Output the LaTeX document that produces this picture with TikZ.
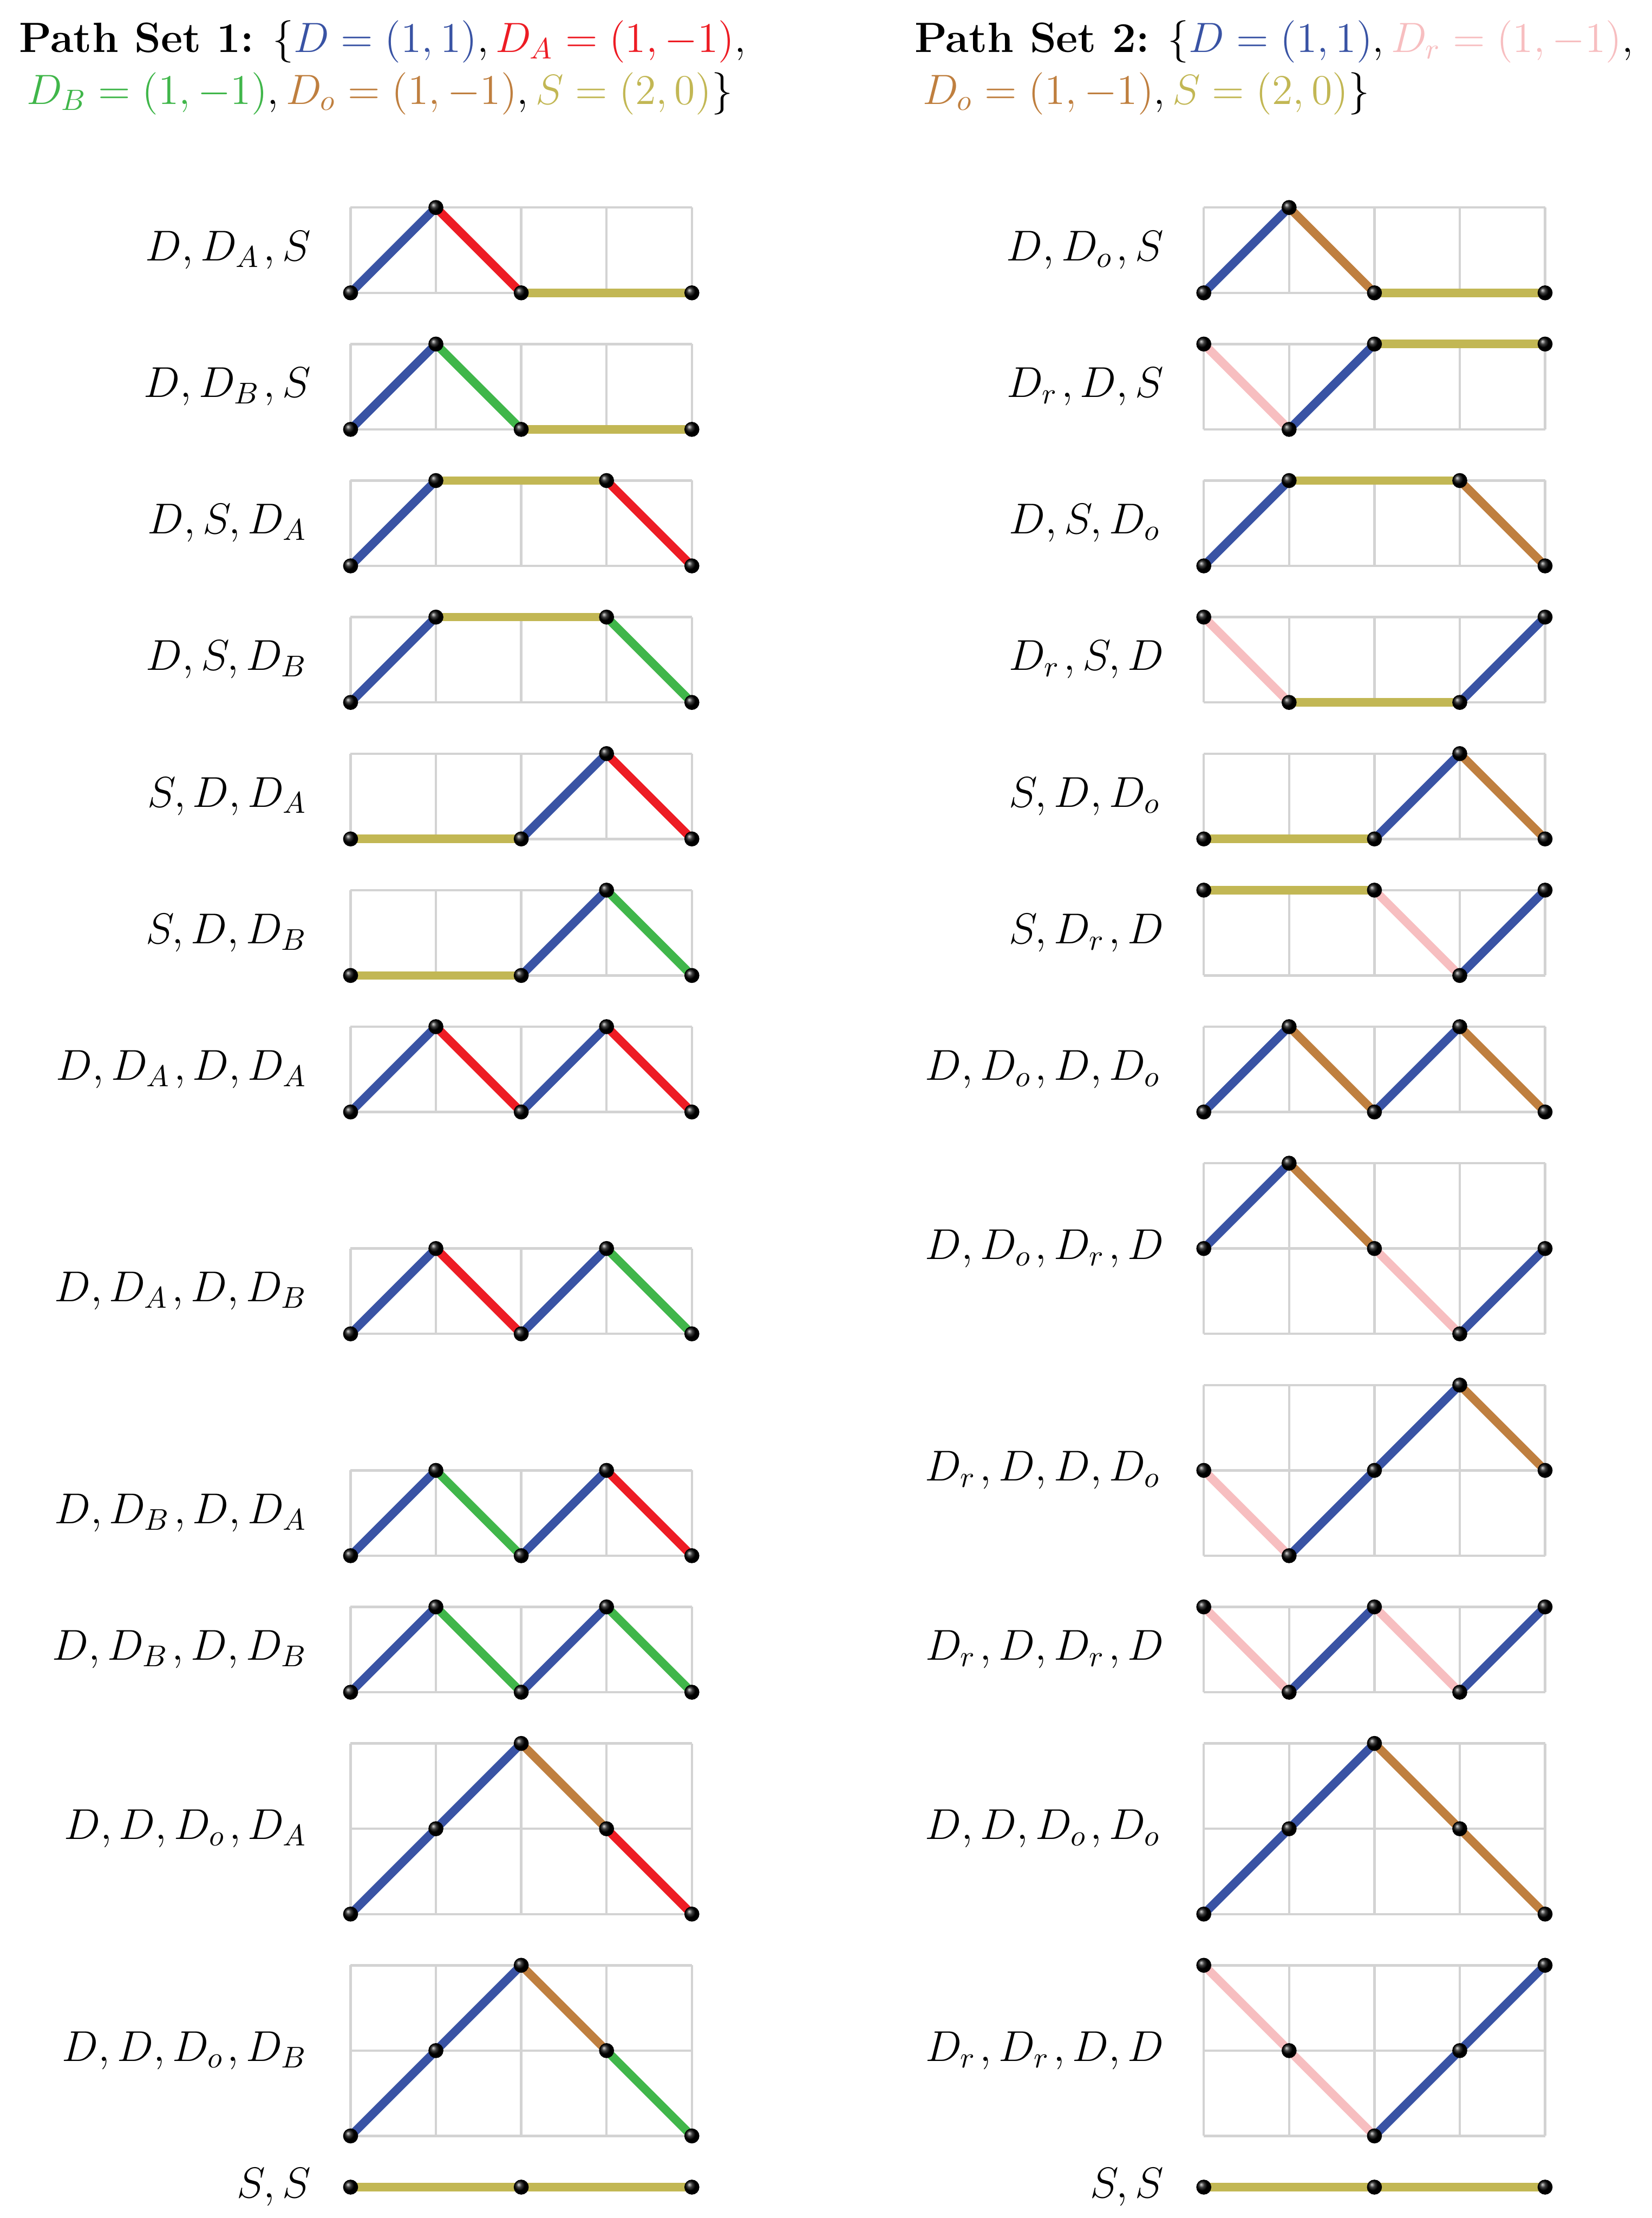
\documentclass[tikz,border=0pt]{standalone}
\definecolor{cD}{RGB}{57,83,164}
\definecolor{cA}{RGB}{237,28,36}
\definecolor{cB}{RGB}{64,182,74}
\definecolor{cO}{RGB}{191,127,63}
\definecolor{cS}{RGB}{194,183,84}
\definecolor{cR}{RGB}{247,190,192}
\definecolor{cG}{RGB}{211,211,211}
\newcommand{\labfont}{\scriptspace=1.7pt\relax\fontsize{14.4}{17}\selectfont}
\tikzset{
  gridline/.style={draw=cG, line width=0.8pt},
  seg/.style={line width=0.1cm},
  dot/.style={circle, inner sep=0pt, minimum size=0.165cm, ball color=black, draw=black, line width=0.3pt},
  lab/.style={anchor=east, inner sep=0pt, font=\labfont},
  head/.style={anchor=base west, inner sep=0pt, scale=0.98, transform shape, font=\fontsize{14.4}{17}\selectfont},
}
\newcommand{\pathplot}[7]{%
  \foreach \gx in {0,...,4}{\draw[gridline] (#2+\gx,#3) -- (#2+\gx,#3+#4);}%
  \foreach \gy in {0,...,#4}{\draw[gridline] (#2,#3+\gy) -- (#2+4,#3+\gy);}%
  \node[lab] (#1lab) at (#2-0.46,#3+#4/2) {$#6$};%
  \coordinate (#1p0) at (#2,#3+#5);%
  \foreach \dx/\dy/\cc [count=\i] in {#7}{%
    \pgfmathtruncatemacro\j{\i-1}%
    \path (#1p\j) ++(\dx,\dy) coordinate (#1p\i);%
    \draw[seg,draw=\cc] (#1p\j) -- (#1p\i);%
    \xdef\lastn{\i}%
  }%
  \foreach \k in {0,...,\lastn}{\node[dot] (#1d\k) at (#1p\k) {};}%
}
\begin{document}
\begin{tikzpicture}
\useasboundingbox (-4.109,-22.562) rectangle (15.251,3.432);
% headers
\node[head] (h1a) at (-3.891,2.818) {\textbf{Path Set 1:} $\{\textcolor{cD}{D=(1,1)}, \textcolor{cA}{D_A=(1,-1)},$};
\node[head] (h1b) at (-3.80,2.213) {$\textcolor{cB}{D_B=(1,-1)}, \textcolor{cO}{D_o=(1,-1)}, \textcolor{cS}{S=(2,0)}\}$};
\node[head] (h2a) at (6.604,2.818) {\textbf{Path Set 2:} $\{\textcolor{cD}{D=(1,1)}, \textcolor{cR}{D_r=(1,-1)},$};
\node[head] (h2b) at (6.70,2.213) {$\textcolor{cO}{D_o=(1,-1)}, \textcolor{cS}{S=(2,0)}\}$};
% left column
\pathplot{La}{0}{0}{1}{0}{D, D_A, S}{1/1/cD, 1/-1/cA, 2/0/cS}
\pathplot{Lb}{0}{-1.6}{1}{0}{D, D_B, S}{1/1/cD, 1/-1/cB, 2/0/cS}
\pathplot{Lc}{0}{-3.2}{1}{0}{D, S, D_A}{1/1/cD, 2/0/cS, 1/-1/cA}
\pathplot{Ld}{0}{-4.8}{1}{0}{D, S, D_B}{1/1/cD, 2/0/cS, 1/-1/cB}
\pathplot{Le}{0}{-6.4}{1}{0}{S, D, D_A}{2/0/cS, 1/1/cD, 1/-1/cA}
\pathplot{Lf}{0}{-8.0}{1}{0}{S, D, D_B}{2/0/cS, 1/1/cD, 1/-1/cB}
\pathplot{Lg}{0}{-9.6}{1}{0}{D, D_A, D, D_A}{1/1/cD, 1/-1/cA, 1/1/cD, 1/-1/cA}
\pathplot{Lh}{0}{-12.2}{1}{0}{D, D_A, D, D_B}{1/1/cD, 1/-1/cA, 1/1/cD, 1/-1/cB}
\pathplot{Li}{0}{-14.8}{1}{0}{D, D_B, D, D_A}{1/1/cD, 1/-1/cB, 1/1/cD, 1/-1/cA}
\pathplot{Lj}{0}{-16.4}{1}{0}{D, D_B, D, D_B}{1/1/cD, 1/-1/cB, 1/1/cD, 1/-1/cB}
\pathplot{Lk}{0}{-19.0}{2}{0}{D, D, D_o, D_A}{1/1/cD, 1/1/cD, 1/-1/cO, 1/-1/cA}
\pathplot{Ll}{0}{-21.6}{2}{0}{D, D, D_o, D_B}{1/1/cD, 1/1/cD, 1/-1/cO, 1/-1/cB}
\pathplot{Lm}{0}{-22.2}{0}{0}{S, S}{2/0/cS, 2/0/cS}
% right column
\pathplot{Ra}{10}{0}{1}{0}{D, D_o, S}{1/1/cD, 1/-1/cO, 2/0/cS}
\pathplot{Rb}{10}{-1.6}{1}{1}{D_r, D, S}{1/-1/cR, 1/1/cD, 2/0/cS}
\pathplot{Rc}{10}{-3.2}{1}{0}{D, S, D_o}{1/1/cD, 2/0/cS, 1/-1/cO}
\pathplot{Rd}{10}{-4.8}{1}{1}{D_r, S, D}{1/-1/cR, 2/0/cS, 1/1/cD}
\pathplot{Re}{10}{-6.4}{1}{0}{S, D, D_o}{2/0/cS, 1/1/cD, 1/-1/cO}
\pathplot{Rf}{10}{-8.0}{1}{1}{S, D_r, D}{2/0/cS, 1/-1/cR, 1/1/cD}
\pathplot{Rg}{10}{-9.6}{1}{0}{D, D_o, D, D_o}{1/1/cD, 1/-1/cO, 1/1/cD, 1/-1/cO}
\pathplot{Rh}{10}{-12.2}{2}{1}{D, D_o, D_r, D}{1/1/cD, 1/-1/cO, 1/-1/cR, 1/1/cD}
\pathplot{Ri}{10}{-14.8}{2}{1}{D_r, D, D, D_o}{1/-1/cR, 1/1/cD, 1/1/cD, 1/-1/cO}
\pathplot{Rj}{10}{-16.4}{1}{1}{D_r, D, D_r, D}{1/-1/cR, 1/1/cD, 1/-1/cR, 1/1/cD}
\pathplot{Rk}{10}{-19.0}{2}{0}{D, D, D_o, D_o}{1/1/cD, 1/1/cD, 1/-1/cO, 1/-1/cO}
\pathplot{Rl}{10}{-21.6}{2}{2}{D_r, D_r, D, D}{1/-1/cR, 1/-1/cR, 1/1/cD, 1/1/cD}
\pathplot{Rm}{10}{-22.2}{0}{0}{S, S}{2/0/cS, 2/0/cS}
\end{tikzpicture}
\end{document}
